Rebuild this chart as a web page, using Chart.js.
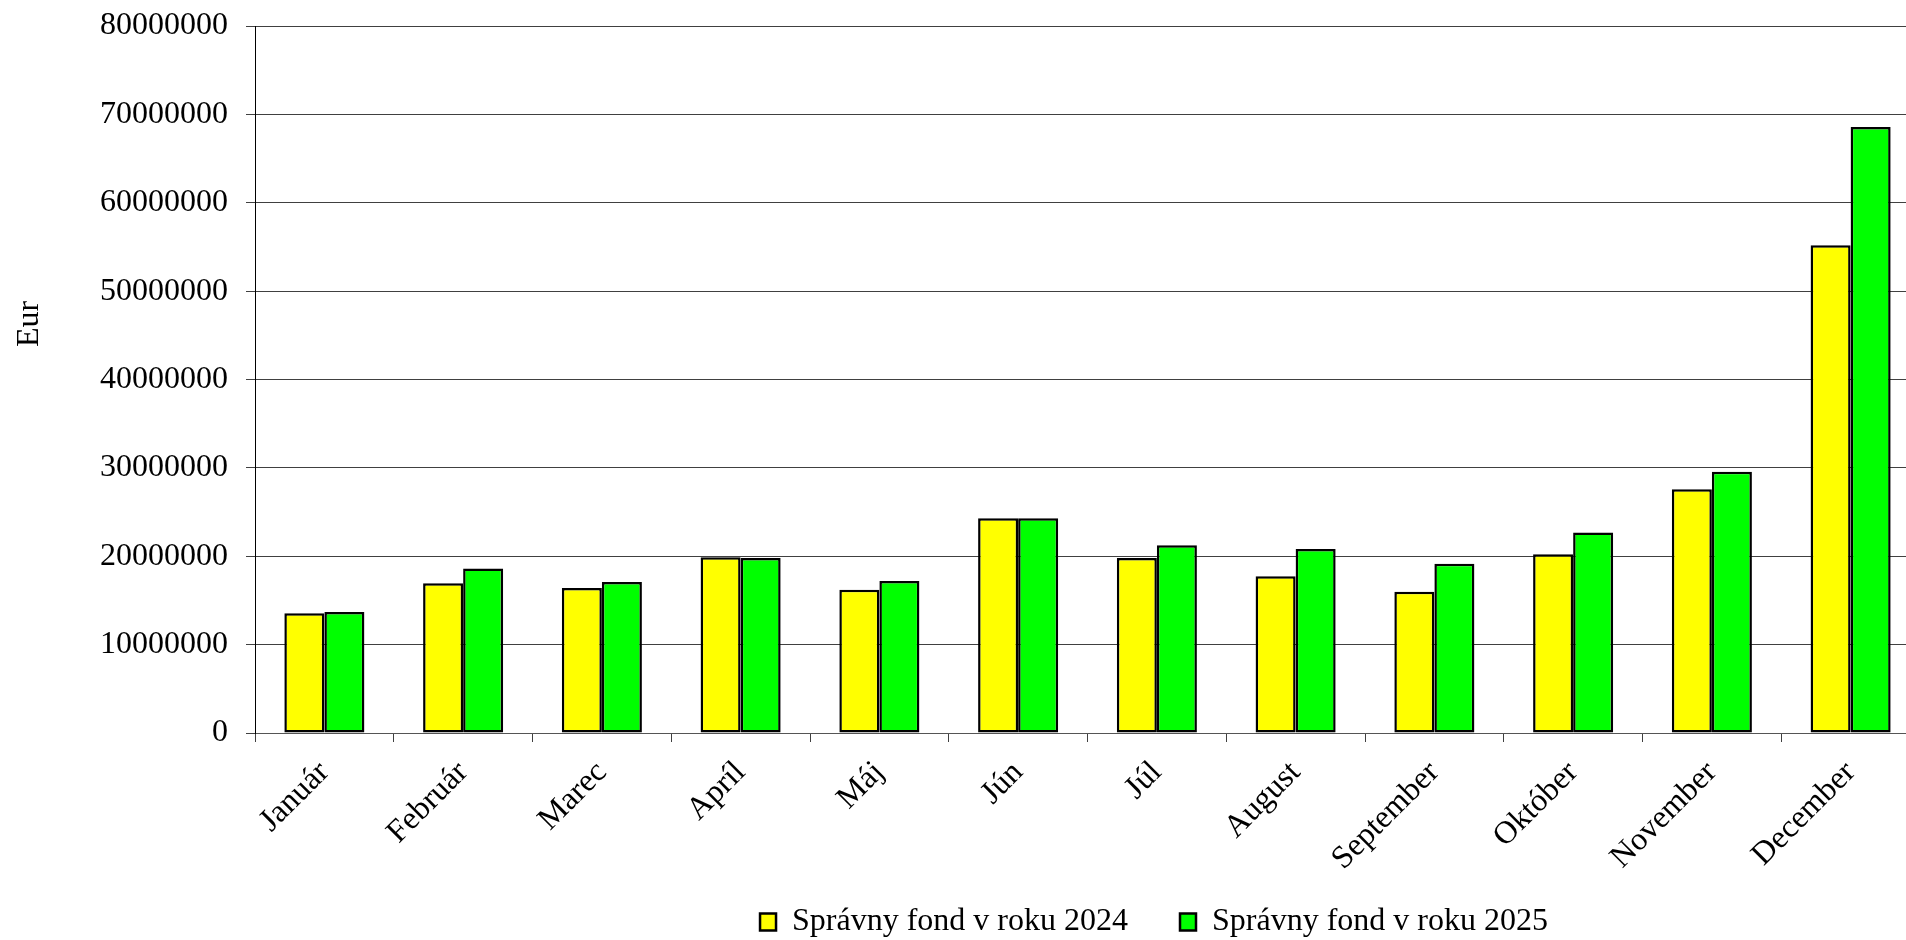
<!DOCTYPE html>
<html>
<head>
<meta charset="utf-8">
<script src="https://cdn.jsdelivr.net/npm/chart.js@4.4.1/dist/chart.umd.min.js"></script>
<style>
    html, body { margin: 0; padding: 0; background: #ffffff; overflow: hidden; }
    #wrap { position: relative; width: 1920px; height: 948px; }
</style>
</head>
<body>
<div id="wrap">
    <canvas id="fondChart" width="1920" height="948"></canvas>
</div>
<script>
// Months on the x axis
const months = ["Január", "Február", "Marec", "Apríl", "Máj", "Jún", "Júl", "August", "September", "Október", "November", "December"];

// Values (Eur)
const fond2024 = [13550000, 16950000, 16420000, 19890000, 16200000, 24300000, 19800000, 17740000, 15970000, 20220000, 27570000, 55200000];
const fond2025 = [13700000, 18600000, 17100000, 19800000, 17200000, 24300000, 21250000, 20830000, 19140000, 22680000, 29560000, 68570000];

// Series names
const seriesNames = ["Správny fond v roku 2024", "Správny fond v roku 2025"];

// Y axis range
const yMin = 0;
const yMax = 80000000;
const yStep = 10000000;
const yTitle = "Eur";

const serif = "'Liberation Serif', 'Times New Roman', serif";

// Vertical "Eur" label, placed like in the original (not centered on the axis)
const eurLabel = {
    id: "eurLabel",
    afterDraw(chart) {
        const ctx = chart.ctx;
        ctx.save();
        ctx.translate(30, 324);
        ctx.rotate(-Math.PI / 2);
        ctx.font = "32px " + serif;
        ctx.fillStyle = "#000000";
        ctx.textAlign = "center";
        ctx.textBaseline = "middle";
        ctx.fillText(yTitle, 0, 0);
        ctx.restore();
    }
};

// Move the legend to the right (it is not centered on the canvas)
// and let the long month names run past the bottom of the x scale
const layoutTweaks = {
    id: "layoutTweaks",
    afterLayout(chart) {
        const dx = 194;
        chart.legend.left += dx;
        chart.legend.right += dx;
        chart.scales.x.bottom += 40;
    }
};

const ctx = document.getElementById("fondChart").getContext("2d");

new Chart(ctx, {
    type: "bar",
    data: {
        labels: months,
        datasets: [{
            label: seriesNames[0],
            data: fond2024,
            backgroundColor: "#ffff00",
            borderColor: "#000000",
            borderWidth: 2.5,
            borderSkipped: false
        }, {
            label: seriesNames[1],
            data: fond2025,
            backgroundColor: "#00ff00",
            borderColor: "#000000",
            borderWidth: 2.5,
            borderSkipped: false
        }]
    },
    options: {
        responsive: false,
        animation: false,
        devicePixelRatio: 1,
        layout: {
            padding: { top: 26, right: 0, bottom: 0, left: 0 }
        },
        datasets: {
            bar: {
                categoryPercentage: 0.577,
                barPercentage: 1.0
            }
        },
        scales: {
            x: {
                grid: {
                    drawOnChartArea: false,
                    drawTicks: true,
                    tickLength: 9,
                    color: "#404040",
                    offset: true
                },
                border: { color: "#555555", width: 1 },
                ticks: {
                    color: "#000000",
                    font: { family: serif, size: 32 },
                    minRotation: 45,
                    maxRotation: 45,
                    autoSkip: false,
                    padding: 12
                },
                afterFit: function(scale) {
                    scale.height = 121;
                }
            },
            y: {
                min: yMin,
                max: yMax,
                grid: {
                    color: "#404040",
                    tickLength: 9,
                    lineWidth: 1
                },
                border: { color: "#000000", width: 1 },
                ticks: {
                    stepSize: yStep,
                    color: "#000000",
                    font: { family: serif, size: 32 },
                    padding: 18,
                    callback: function(value) {
                        return String(value);
                    }
                },
                afterFit: function(scale) {
                    scale.width = 255;
                    scale.paddingTop = 0;
                    scale.paddingBottom = 0;
                }
            }
        },
        plugins: {
            legend: {
                position: "bottom",
                labels: {
                    color: "#000000",
                    font: { family: serif, size: 32 },
                    boxWidth: 16,
                    boxHeight: 17,
                    padding: 52
                }
            },
            tooltip: { enabled: false }
        }
    },
    plugins: [eurLabel, layoutTweaks]
});
</script>
</body>
</html>
